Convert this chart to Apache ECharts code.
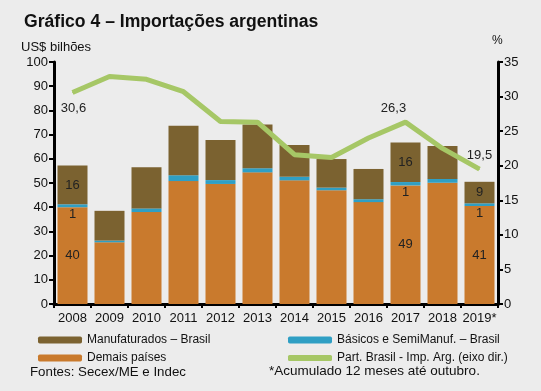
<!DOCTYPE html>
<html><head><meta charset="utf-8">
<script src="https://cdn.jsdelivr.net/npm/echarts@6/dist/echarts.min.js"></script>
<style>html,body{margin:0;padding:0;background:#ececec;}#c{width:541px;height:391px;}</style>
</head><body><div id="c"></div>
<script>
const years = ['2008','2009','2010','2011','2012','2013','2014','2015','2016','2017','2018','2019*'];
const demais = [40, 25.5, 38, 50.8, 49.6, 54.4, 51.1, 47, 42.1, 49, 50.1, 40.5];
const basicos = [1.2, 0.7, 1.5, 2.4, 1.6, 1.7, 1.5, 1.1, 1.2, 1.4, 1.6, 1.1];
const manuf = [16, 12.3, 17, 20.5, 16.6, 18.1, 13.1, 11.8, 12.5, 16.3, 13.6, 8.9];
const partBrasil = [30.6, 32.9, 32.5, 30.7, 26.4, 26.3, 21.6, 21.2, 24.0, 26.3, 22.5, 19.5];
const demaisLabels = ['40','','','','','','','','','49','','41'];
const basicosLabels = ['1','','','','','','','','','1','','1'];
const manufLabels = ['16','','','','','','','','','16','','9'];
const lineLabels = ['30,6','','','','','','','','','26,3','','19,5'];

const FONT = '"Liberation Sans", Arial, sans-serif';
const chart = echarts.init(document.getElementById('c'));
const lbl = (arr) => ({show:true, color:'#222', fontFamily:FONT, fontSize:13,
  formatter: p => arr[p.dataIndex]});
const legendBase = {itemWidth:44, itemHeight:7, itemGap:0, padding:0,
  textStyle:{fontFamily:FONT, fontSize:12, color:'#111'}, selectedMode:false};
chart.setOption({
  backgroundColor:'#ececec',
  animation:false,
  grid:{left:54, right:43, top:62, bottom:87},
  xAxis:{type:'category', data:years,
    axisLine:{lineStyle:{color:'#000', width:3}},
    axisTick:{show:true, length:4, lineStyle:{color:'#000', width:2}},
    axisLabel:{color:'#111', fontFamily:FONT, fontSize:13, margin:8, interval:0}},
  yAxis:[
    {type:'value', min:0, max:100, interval:10,
      axisLine:{show:true, lineStyle:{color:'#000', width:3}},
      axisTick:{show:true, length:5, lineStyle:{color:'#000', width:2}},
      splitLine:{show:false},
      axisLabel:{color:'#111', fontFamily:FONT, fontSize:13, margin:6}},
    {type:'value', min:0, max:35, interval:5, position:'right',
      axisLine:{show:true, lineStyle:{color:'#000', width:3}},
      axisTick:{show:true, length:5, lineStyle:{color:'#000', width:2}},
      splitLine:{show:false},
      axisLabel:{color:'#111', fontFamily:FONT, fontSize:13, margin:6}}
  ],
  legend:[
    Object.assign({}, legendBase, {left:38, top:334, data:['Manufaturados – Brasil']}),
    Object.assign({}, legendBase, {left:288, top:334, data:['Básicos e SemiManuf. – Brasil']}),
    Object.assign({}, legendBase, {left:38, top:352, data:['Demais países']}),
    Object.assign({}, legendBase, {left:288, top:352, data:[{name:'Part. Brasil - Imp. Arg. (eixo dir.)', icon:'roundRect'}], itemHeight:6})
  ],
  series:[
    {name:'Demais países', type:'bar', stack:'t', barWidth:30, data:demais,
      itemStyle:{color:'#c97a2d'}, label:Object.assign(lbl(demaisLabels), {position:'inside'})},
    {name:'Básicos e SemiManuf. – Brasil', type:'bar', stack:'t', barWidth:30, data:basicos,
      itemStyle:{color:'#2f9fc4'}, label:Object.assign(lbl(basicosLabels), {position:'bottom', distance:1})},
    {name:'Manufaturados – Brasil', type:'bar', stack:'t', barWidth:30, data:manuf,
      itemStyle:{color:'#7b6230'}, label:Object.assign(lbl(manufLabels), {position:'inside'})},
    {name:'Part. Brasil - Imp. Arg. (eixo dir.)', type:'line', yAxisIndex:1, data:partBrasil,
      symbol:'circle', symbolSize:1, showSymbol:true,
      lineStyle:{color:'#a6c766', width:5}, itemStyle:{color:'#a6c766'},
      label:{show:true, fontFamily:FONT, fontSize:13, color:'#222',
        formatter:p=>lineLabels[p.dataIndex], position:'top', distance:7},
      labelLayout: function(params){
        if (params.dataIndex === 0) return {dy: 30, dx: 1};
        if (params.dataIndex === 9) return {dx: -12};
        if (params.dataIndex === 11) return {dx: 0};
        return {};
      }}
  ],
  graphic:[
    {type:'text', left:24, top:13, style:{text:'Gráfico 4 – Importações argentinas', font:'bold 17.6px '+FONT, fill:'#111'}},
    {type:'text', left:21, top:41, style:{text:'US$ bilhões', font:'13px '+FONT, fill:'#111'}},
    {type:'text', left:492, top:35, style:{text:'%', font:'12px '+FONT, fill:'#111'}},
    {type:'text', left:30, top:366, style:{text:'Fontes: Secex/ME e Indec', font:'13.3px '+FONT, fill:'#111'}},
    {type:'text', left:269, top:364, style:{text:'*Acumulado 12 meses até outubro.', font:'13.5px '+FONT, fill:'#111'}}
  ]
});
</script></body></html>
